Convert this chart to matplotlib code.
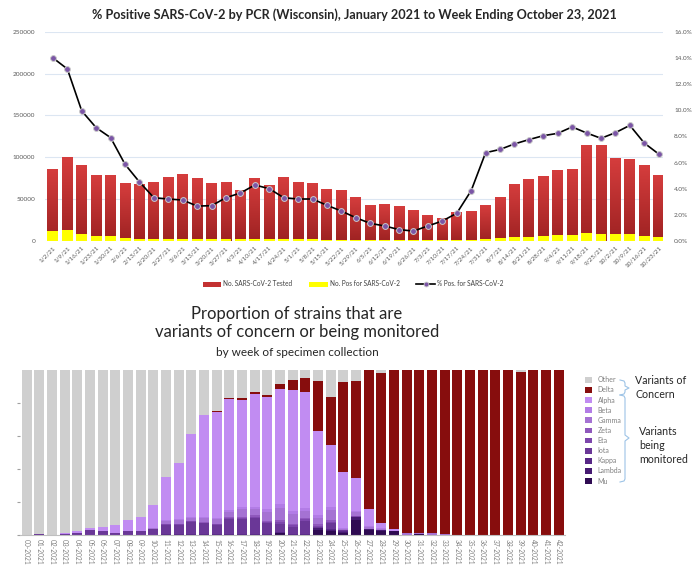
import matplotlib.pyplot as plt
import numpy as np
from matplotlib.patches import Patch
from matplotlib.lines import Line2D
from matplotlib.colors import LinearSegmentedColormap

plt.rcParams['font.family'] = ['Lato', 'DejaVu Sans']

# --- Top chart: weekly PCR tests, Wisconsin 2021 ---
dates = ['1/2/21', '1/9/21', '1/16/21', '1/23/21', '1/30/21', '2/6/21', '2/13/21',
         '2/20/21', '2/27/21', '3/6/21', '3/13/21', '3/20/21', '3/27/21', '4/3/21',
         '4/10/21', '4/17/21', '4/24/21', '5/1/21', '5/8/21', '5/15/21', '5/22/21',
         '5/29/21', '6/5/21', '6/12/21', '6/19/21', '6/26/21', '7/3/21', '7/10/21',
         '7/17/21', '7/24/21', '7/31/21', '8/7/21', '8/14/21', '8/21/21', '8/28/21',
         '9/4/21', '9/11/21', '9/18/21', '9/25/21', '10/2/21', '10/9/21', '10/16/21',
         '10/23/21']
tested = [86000, 99200, 90000, 78000, 78800, 68800, 67600, 69600, 76400, 79600,
          74800, 68400, 70400, 60400, 74400, 66800, 75600, 69600, 69200, 62000,
          60000, 52400, 42800, 44000, 41600, 36800, 30000, 27200, 33600, 34800,
          42400, 51600, 68000, 73600, 77200, 84000, 85600, 114400, 113600, 98400,
          97600, 90400, 78800]
positive = [12000, 13200, 8800, 6400, 5600, 4000, 2800, 2400, 2400, 2400,
            2000, 2000, 2400, 2000, 2800, 2400, 2400, 2000, 2000, 1600,
            1600, 1400, 1200, 1000, 800, 800, 800, 1000, 1400, 1600,
            2800, 3600, 4800, 5200, 5600, 6800, 7200, 9200, 8800, 8000,
            8400, 6400, 4800]
pct_pos = [14.0, 13.15, 9.94, 8.66, 7.9, 5.86, 4.51, 3.31, 3.21, 3.13,
           2.67, 2.70, 3.31, 3.67, 4.28, 4.0, 3.31, 3.21, 3.21, 2.73,
           2.29, 1.78, 1.35, 1.15, 0.87, 0.76, 1.15, 1.53, 2.12, 3.85,
           6.75, 7.0, 7.42, 7.75, 8.05, 8.23, 8.72, 8.26, 7.85, 8.28,
           8.84, 7.49, 6.65]

# --- Bottom chart: variant proportions (%) by week ---
weeks = [f'{i:02d}-2021' for i in range(43)]
mu = [0, 0, 0, 0, 0, 0, 0, 0, 0, 0,
      0, 0, 0, 0, 0, 0, 0, 0, 0, 0,
      1.0, 0, 0, 3.0, 2.2, 1.5, 9.0, 2.8, 2.5, 2.2,
      0, 0.7, 0, 0, 0, 0, 0, 0, 0, 0,
      0, 0, 0]
lambda_ = [0, 0, 0, 0, 0, 0, 0, 0, 0, 0,
           0, 0, 0, 0, 0, 0, 0, 0, 0, 0,
           0.4, 0, 0, 1.0, 0.8, 0.5, 2.0, 0.6, 0.5, 0.4,
           0, 0, 0, 0, 0, 0, 0, 0, 0, 0,
           0, 0, 0]
kappa = [0, 0, 0, 0, 0, 0.2, 0.2, 0.1, 0.2, 0.2,
         0.3, 0.5, 0.5, 0.6, 0.6, 0.5, 0.8, 0.8, 0.9, 0.6,
         0.5, 0.5, 0.8, 0.2, 0.5, 0.2, 0, 0, 0, 0,
         0, 0, 0, 0, 0, 0, 0, 0, 0, 0,
         0, 0, 0]
iota = [0, 0.5, 0, 0.8, 1.4, 3.0, 2.4, 0.9, 2.2, 2.4,
        3.1, 5.8, 5.5, 7.3, 6.4, 5.5, 9.2, 8.7, 9.6, 6.4,
        4.6, 4.3, 7.9, 0.8, 3.5, 0.8, 0, 0, 0, 0,
        0, 0, 0, 0, 0, 0, 0, 0, 0, 0,
        0, 0, 0]
eta = [0, 0, 0, 0, 0, 0, 0, 0, 0, 0,
       0.1, 0.3, 0.4, 0.3, 0.4, 0.5, 0.5, 0.8, 0.7, 0.8,
       1.2, 1.0, 0.7, 0.7, 1.0, 0.1, 0.4, 0.2, 0.1, 0,
       0, 0, 0, 0, 0, 0, 0, 0, 0, 0,
       0, 0, 0]
zeta = [0, 0, 0, 0, 0, 0, 0, 0, 0, 0,
        0.1, 0.3, 0.4, 0.3, 0.4, 0.4, 0.5, 0.8, 0.7, 0.9,
        1.2, 1.0, 0.8, 0.7, 1.0, 0.1, 0.4, 0.2, 0.1, 0,
        0, 0, 0, 0, 0, 0, 0, 0, 0, 0,
        0, 0, 0]
gamma = [0, 0, 0, 0, 0, 0, 0, 0, 0, 0,
         0.6, 1.8, 2.2, 1.8, 2.4, 2.7, 3.0, 4.6, 4.0, 5.2,
         7.3, 5.8, 4.5, 4.2, 6.0, 0.6, 2.2, 1.2, 0.6, 0,
         1.4, 0.7, 1.0, 0.4, 0, 0, 0, 0, 0, 0,
         0, 0, 0]
beta = [0, 0, 0, 0, 0, 0, 0, 0, 0, 0,
        0.2, 0.6, 0.7, 0.6, 0.8, 0.9, 1.0, 1.5, 1.3, 1.7,
        2.4, 1.9, 1.5, 1.4, 2.0, 0.2, 0.7, 0.4, 0.2, 0,
        0, 0, 0, 0, 0, 0, 0, 0, 0, 0,
        0, 0, 0]
alpha = [0, 0.3, 0, 0.4, 1.0, 1.0, 2.0, 5.3, 6.9, 8.5,
         14.0, 25.7, 34.1, 50.5, 61.7, 63.8, 67.4, 64.6, 68.1, 68.2,
         69.7, 73.4, 70.7, 51.0, 37.5, 34.0, 20.0, 10.2, 3.0, 1.0,
         0, 0, 0, 0, 0, 0, 0, 0, 0, 0,
         0, 0, 0]
delta = [0, 0, 0, 0, 0, 0, 0, 0, 0, 0,
         0, 0, 0, 0, 0, 0.6, 0.6, 1.2, 1.6, 1.2,
         3.0, 6.0, 8.5, 30.3, 29.3, 54.5, 58.6, 84.4, 91.0, 96.4,
         98.6, 98.6, 99.0, 99.6, 100, 100, 100, 100, 100, 99.0,
         100, 100, 100]
other = [100, 99.2, 100, 98.8, 97.6, 95.8, 95.4, 93.7, 90.7, 88.9,
         81.6, 65.0, 56.2, 38.6, 27.3, 25.1, 17.0, 17.0, 13.1, 15.0,
         8.7, 6.1, 4.6, 6.7, 16.2, 7.5, 6.7, 0, 2.0, 0,
         0, 0, 0, 0, 0, 0, 0, 0, 0, 1.0,
         0, 0, 0]

W, H = 697, 569
fig = plt.figure(figsize=(W / 100, H / 100), dpi=100)


def box(x0, y0, x1, y1):
    # pixel box (top-left origin) -> figure fraction rect
    return [x0 / W, 1 - y1 / H, (x1 - x0) / W, (y1 - y0) / H]


# ================= top chart =================
ax = fig.add_axes(box(45, 31.7, 663, 241))
x = np.arange(len(dates))
red_cmap = LinearSegmentedColormap.from_list('reds', ['#9E2222', '#D53D3D'])
grad = np.linspace(0, 1, 256).reshape(-1, 1)
rects = ax.bar(x, tested, width=0.76, color='none')
for r in rects:
    ax.imshow(grad, extent=(r.get_x(), r.get_x() + r.get_width(), 0, r.get_height()),
              origin='lower', aspect='auto', cmap=red_cmap, zorder=2)
ax.bar(x, positive, width=0.76, color='#FFFF00', zorder=3)
ax.set_xlim(-0.55, 42.3)
ax.set_ylim(0, 250000)
ax.set_yticks(np.arange(0, 250001, 50000))
ax.yaxis.grid(True, color='#DCE6F2', lw=0.8)
ax.set_axisbelow(True)
for s in ax.spines.values():
    s.set_visible(False)
ax.tick_params(axis='y', length=0, labelsize=4.6, labelcolor='#595959', pad=7)
ax.set_xticks(x)
ax.set_xticklabels(dates, rotation=45, ha='right', rotation_mode='anchor',
                   fontsize=4.6, color='#595959')
ax.tick_params(axis='x', length=0, pad=3)

ax2 = ax.twinx()
ax2.plot(x, pct_pos, color='black', lw=1.2, marker='o', ms=4.2,
         mfc='#7B55A6', mec='#C9C9C9', mew=0.7, zorder=5)
ax2.set_ylim(0, 16)
ax2.set_yticks(np.arange(0, 16.1, 2))
ax2.set_yticklabels([f'{v:.1f}%' for v in np.arange(0, 16.1, 2)])
ax2.tick_params(axis='y', length=0, labelsize=4.6, labelcolor='#595959', pad=8)
for s in ax2.spines.values():
    s.set_visible(False)

fig.text(354.5 / W, 1 - 15 / H,
         '% Positive SARS-CoV-2 by PCR (Wisconsin), January 2021 to Week Ending October 23, 2021',
         ha='center', va='center', fontsize=9.1, fontweight='bold', color='#262626')

top_handles = [Patch(facecolor='#C33131'), Patch(facecolor='#FFFF00'),
               Line2D([], [], color='black', lw=1.2, marker='o', ms=3.5,
                      mfc='#7B55A6', mec='#C9C9C9', mew=0.6)]
top_labels = ['No. SARS-CoV-2 Tested', 'No. Pos for SARS-CoV-2', '% Pos. for SARS-CoV-2']
fig.legend(top_handles, top_labels, loc='center', bbox_to_anchor=(353 / W, 1 - 284 / H),
           ncol=3, frameon=False, fontsize=4.7, handlelength=2.8, handleheight=0.8,
           columnspacing=2.6, handletextpad=0.3, labelcolor='#404040')

# ================= bottom chart =================
ax3 = fig.add_axes(box(20.4, 370, 565, 535))
xw = np.arange(len(weeks))
series = [('Mu', mu, '#2F0B52'), ('Lambda', lambda_, '#461A72'),
          ('Kappa', kappa, '#572786'), ('Iota', iota, '#6A3797'),
          ('Eta', eta, '#7D46AC'), ('Zeta', zeta, '#8F58BC'),
          ('Gamma', gamma, '#A572D3'), ('Beta', beta, '#B27CE6'),
          ('Alpha', alpha, '#C18CF2'), ('Delta', delta, '#870D0D'),
          ('Other', other, '#CFCFCF')]
bottom = np.zeros(len(weeks))
handles = {}
for name, vals, col in series:
    handles[name] = ax3.bar(xw, vals, bottom=bottom, width=0.8, color=col)
    bottom += np.array(vals)
ax3.set_xlim(-0.5, 42.5)
ax3.set_ylim(0, 100)
ax3.set_xticks(xw)
ax3.set_xticklabels(weeks, rotation=-90, fontsize=4.8, color='#808080')
ax3.tick_params(axis='x', length=0, pad=3)
ax3.set_yticks([0, 20, 40, 60, 80])
ax3.set_yticklabels([])
ax3.tick_params(axis='y', length=2, color='#A0A0A0')
for side in ['top', 'right', 'left']:
    ax3.spines[side].set_visible(False)
ax3.spines['bottom'].set_color('#BFBFBF')

legend_order = ['Other', 'Delta', 'Alpha', 'Beta', 'Gamma', 'Zeta', 'Eta',
                'Iota', 'Kappa', 'Lambda', 'Mu']
fig.legend([handles[n] for n in legend_order], legend_order, loc='upper left',
           bbox_to_anchor=(579 / W, 1 - 370 / H), frameon=False, fontsize=5,
           handlelength=0.9, handleheight=0.9, labelspacing=0.45,
           handletextpad=0.9, labelcolor='#808080')

fig.text(297 / W, 1 - 323 / H,
         'Proportion of strains that are\nvariants of concern or being monitored',
         ha='center', va='center', fontsize=12, linespacing=1.15, color='#262626')
fig.text(297 / W, 1 - 353 / H, 'by week of specimen collection',
         ha='center', va='center', fontsize=8.5, color='#262626')

fig.text(635 / W, 1 - 387.5 / H, 'Variants of\nConcern', ha='left', va='center',
         fontsize=7.7, linespacing=1.35, color='#262626')
fig.text(639 / W, 1 - 445.5 / H, 'Variants\nbeing\nmonitored', ha='left', va='center',
         fontsize=7.7, linespacing=1.35, color='#262626')

# curly braces next to the legend
brace_pts = [
    [(620, 380), (624, 381), (625, 383), (625, 386), (629, 388), (625, 390),
     (625, 392), (624, 394), (620, 395)],
    [(620, 395), (624, 396), (625, 398), (625, 435), (629, 438), (625, 441),
     (625, 479), (624, 481), (620, 482)],
]
for pts in brace_pts:
    bx = [p[0] / W for p in pts]
    by = [1 - p[1] / H for p in pts]
    fig.add_artist(Line2D(bx, by, color='#9DC3E6', lw=0.8))

fig.savefig('out.png', dpi=100)
